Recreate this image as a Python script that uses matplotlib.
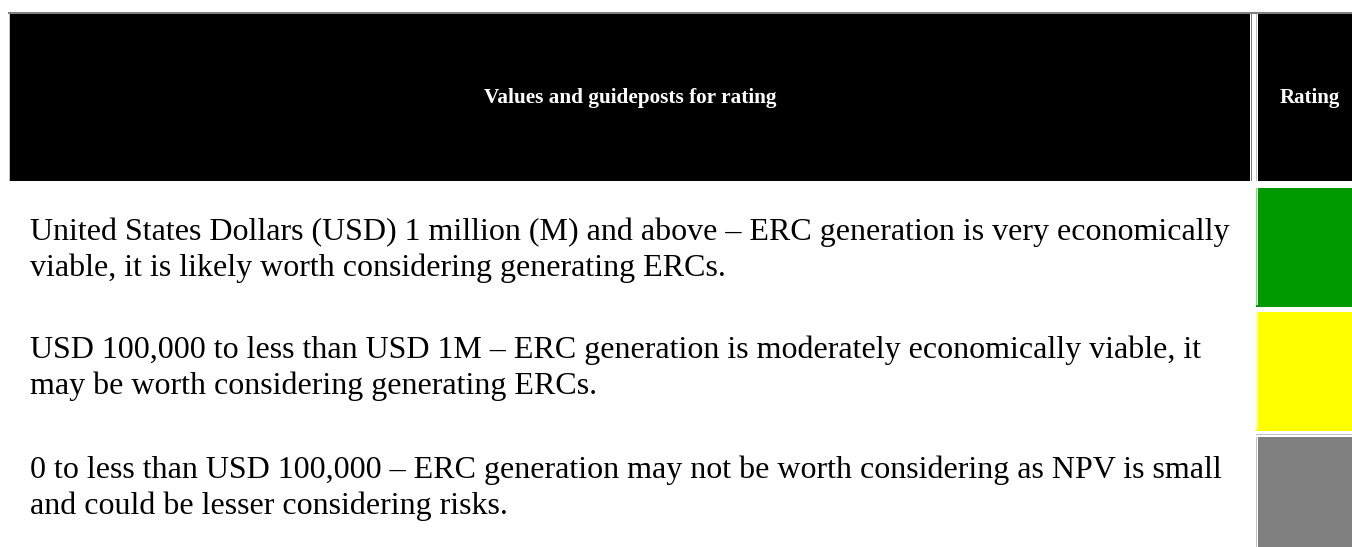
import matplotlib
matplotlib.use("Agg")
import matplotlib.pyplot as plt
from matplotlib.patches import Rectangle

header_text = "Values and guideposts for rating"
rating_header = "Rating"
row_lines = [
    ["United States Dollars (USD) 1 million (M) and above \u2013 ERC generation is very economically",
     "viable, it is likely worth considering generating ERCs."],
    ["USD 100,000 to less than USD 1M \u2013 ERC generation is moderately economically viable, it",
     "may be worth considering generating ERCs."],
    ["0 to less than USD 100,000 \u2013 ERC generation may not be worth considering as NPV is small",
     "and could be lesser considering risks."],
]
rating_colors = ["#009900", "#FFFF00", "#808080"]
border_colors = ["#8fd08f", "#ffff99", "#c0c0c0"]

W, H = 1352, 547
fig = plt.figure(figsize=(W / 100, H / 100), dpi=100)
ax = fig.add_axes([0, 0, 1, 1])
ax.set_xlim(0, W)
ax.set_ylim(H, 0)
ax.axis("off")

serif = ["Liberation Serif", "DejaVu Serif"]

# header
ax.add_patch(Rectangle((8, 12), W - 8, 1.5, color="#808080", lw=0))
ax.add_patch(Rectangle((9, 13.5), 1, 167, color="#c0c0c0", lw=0))
ax.add_patch(Rectangle((10, 13.5), 1240, 167, color="black", lw=0))
ax.add_patch(Rectangle((1251, 13.5), 1.3, 167, color="#808080", lw=0))
ax.add_patch(Rectangle((1256, 13.5), 1.3, 167, color="#c0c0c0", lw=0))
ax.add_patch(Rectangle((1258, 13.5), W - 1258, 167, color="black", lw=0))
ax.text(630, 98, header_text, color="white", fontsize=15.3, fontweight="bold",
        family=serif, ha="center", va="center")
ax.text(1310, 98, rating_header, color="white", fontsize=15, fontweight="bold",
        family=serif, ha="center", va="center")

# rows
row_tops = [188, 312, 437]
row_bottoms = [304.5, 428.5, H]
line_y = [(232.5, 268.5), (350.5, 386.5), (470.5, 506.5)]
for i, lines in enumerate(row_lines):
    top, bot = row_tops[i], row_bottoms[i]
    ax.add_patch(Rectangle((1256, top), 1.3, (bot - top) + 2, color=border_colors[i], lw=0))
    ax.add_patch(Rectangle((1258, top), W - 1258, bot - top, color=rating_colors[i], lw=0))
    if i < 2:
        ax.add_patch(Rectangle((1256, bot + 0.8), W - 1256, 1.5, color=rating_colors[i], lw=0))
    else:
        ax.add_patch(Rectangle((1256, top - 3), W - 1256, 1.3, color=border_colors[i], lw=0))
    for j, ln in enumerate(lines):
        ax.text(30, line_y[i][j], ln, color="black", fontsize=23, family=serif,
                ha="left", va="center")

fig.savefig("out.png", dpi=100)
